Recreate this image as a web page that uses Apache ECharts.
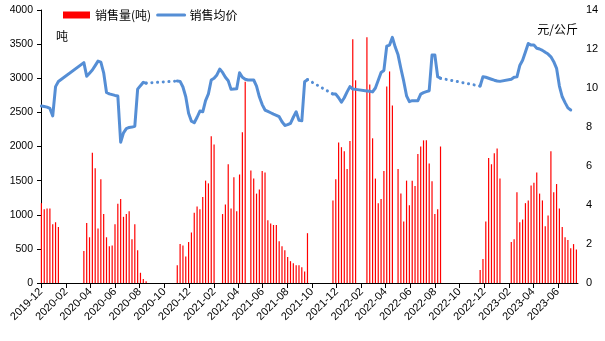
<!DOCTYPE html>
<html>
<head>
<meta charset="utf-8">
<script src="https://cdn.jsdelivr.net/npm/echarts@6/dist/echarts.min.js"></script>
<style>
  html, body { margin: 0; padding: 0; background: #fff; }
  #chart { width: 605px; height: 341px; }
</style>
</head>
<body>
<div id="chart"></div>
<script>
// Weekly series, one entry per week starting Monday 2019-12-02 (null = no record that week)
const weekStart = [2019, 12, 2];

// 销售量 (吨)
const salesVolume = [
  1170, 1080, 1090, 1090, 860, 890, 820, null, null, null,
  null, null, null, null, null, 470, 880, 670, 1910, 1680,
  800, 1520, 1010, 670, 540, 550, 860, 1160, 1230, 970,
  1010, 1050, 640, 860, 480, 150, 60, 25, null, null,
  null, null, null, null, null, null, null, null, 260, 570,
  550, 390, 600, 740, 1030, 1120, 1080, 1260, 1500, 1460,
  2150, 2030, null, null, 1010, 1150, 1740, 1090, 1550, 1050,
  1590, 2210, 2950, null, 1650, 1530, 1310, 1370, 1640, 1620,
  920, 870, 850, 850, 610, 540, 480, 380, 320, 290,
  260, 260, 230, 170, 730, null, null, null, null, null,
  null, null, null, 1210, 1520, 2060, 1990, 1930, 1670, 2080,
  3570, 2970, null, null, null, 3600, 2910, 2120, 1530, 1170,
  1230, 1640, 2880, 3100, 2600, null, 1670, 1310, 900, 1500,
  1140, 1500, 1420, 1890, 2000, 2090, 2090, 1750, 1490, 1010,
  1080, 2000, null, null, null, null, null, null, null, null,
  null, null, null, null, null, 190, 350, 900, 1830, 1740,
  1900, 1970, 1530, null, null, null, 600, 640, 1330, 890,
  930, 1170, 1210, 1430, 1470, 1620, 1310, 1210, 830, 990,
  1930, 1330, 1450, 1090, 820, 670, 630, 510, 570, 490
];

// 销售均价 (元/公斤)
const avgPrice = [
  9.08, 9.05, 9.02, 8.95, 8.57, 10.07, 10.33, null, null, null,
  null, null, null, null, null, 11.3, 10.6, 10.76, 10.92, 11.15,
  11.38, 11.33, 10.78, 9.77, 9.7, 9.66, 9.62, 9.59, 7.22, 7.7,
  7.92, 7.98, 8.0, 8.04, 9.94, 10.12, 10.29, 10.25, null, null,
  null, null, null, null, null, null, null, null, 10.36, 10.34,
  10.05, 9.55, 8.7, 8.3, 8.22, 8.5, 8.82, 8.78, 9.35, 9.7,
  10.41, 10.5, 10.67, 10.97, 10.8, 10.55, 10.37, 9.93, 9.95, 9.96,
  10.78, 10.55, 10.45, 10.41, 10.41, 10.41, 10.1, 9.55, 9.15, 8.87,
  8.8, 8.73, 8.66, 8.6, 8.53, 8.27, 8.08, 8.12, 8.19, 8.5,
  8.78, 8.34, 8.32, 10.32, 10.43, null, null, null, null, null,
  null, null, null, 9.69, 9.69, 9.5, 9.27, 9.5, 9.8, 10.07,
  9.95, 9.93, null, null, null, 9.85, 9.83, 9.8, 10.0, 10.4,
  10.8, 10.9, 12.15, 12.2, 12.6, 12.1, 11.7, 11.0, 10.35, 9.6,
  9.3, 9.35, 9.35, 9.35, 9.69, 9.76, 9.81, 9.86, 11.69, 11.69,
  10.58, 10.5, null, null, null, null, null, null, null, null,
  null, null, null, null, null, 10.1, 10.58, 10.55, 10.5, 10.45,
  10.4, 10.36, 10.34, null, null, null, 10.45, 10.55, 10.57, 11.15,
  11.42, 11.85, 12.28, 12.2, 12.2, 12.04, 12.0, 11.93, 11.83, 11.74,
  11.6, 11.35, 11.01, 10.1, 9.55, 9.25, 8.98, 8.87, null, null
];

// Price gaps bridged with a dotted line: [last week before, first week after]
const dottedBridges = [[37, 48], [94, 103], [141, 155]];

// Tick labels on the date axis
const tickMonths = [
  '2019-12', '2020-02', '2020-04', '2020-06', '2020-08', '2020-10',
  '2020-12', '2021-02', '2021-04', '2021-06', '2021-08', '2021-10',
  '2021-12', '2022-02', '2022-04', '2022-06', '2022-08', '2022-10',
  '2022-12', '2023-02', '2023-04', '2023-06'
];
const axisStart = '2019-12-01';
const axisEnd = '2023-07-21';

const DAY = 86400000;
function parseDay(s) {
  const p = s.split('-').map(Number);
  return Date.UTC(p[0], p[1] - 1, p[2] || 1);
}
const t0 = Date.UTC(weekStart[0], weekStart[1] - 1, weekStart[2]);
const weekTime = k => t0 + k * 7 * DAY;

const barData = [];
salesVolume.forEach((v, k) => { if (v != null) barData.push([weekTime(k), v]); });

const bridgeStarts = new Set(dottedBridges.map(b => b[0]));
const solidData = [];
avgPrice.forEach((v, k) => {
  if (v == null) return;
  solidData.push([weekTime(k), v]);
  if (bridgeStarts.has(k)) solidData.push([weekTime(k) + DAY, '-']);
});
const dottedData = [];
dottedBridges.forEach(([a, b]) => {
  dottedData.push([weekTime(a), avgPrice[a]]);
  dottedData.push([weekTime(b), avgPrice[b]]);
  dottedData.push([weekTime(b) + DAY, '-']);
});

const tickValues = tickMonths.map(parseDay);
const FONT = "'Liberation Sans', 'Noto Sans CJK SC', sans-serif";
const CJK = "'Noto Sans CJK SC', 'Liberation Sans', sans-serif";
const LINE_COLOR = '#558ED5';

function monthLabel(v) {
  const d = new Date(v);
  const m = d.getUTCMonth() + 1;
  return d.getUTCFullYear() + '-' + (m < 10 ? '0' + m : m);
}

const chart = echarts.init(document.getElementById('chart'), null, { renderer: 'canvas' });
chart.setOption({
  animation: false,
  backgroundColor: '#ffffff',
  textStyle: { fontFamily: FONT },
  grid: { left: 41, right: 27, top: 10, bottom: 58, containLabel: false },
  legend: {
    left: 63, top: 9, padding: 0, itemGap: 5,
    itemWidth: 27, itemHeight: 7,
    textStyle: { fontSize: 12, color: '#000', fontFamily: CJK },
    data: [
      { name: '销售量(吨)', icon: 'rect' },
      { name: '销售均价', itemStyle: { opacity: 0 }, lineStyle: { width: 3, color: LINE_COLOR } }
    ]
  },
  xAxis: {
    type: 'value',
    min: parseDay(axisStart),
    max: parseDay(axisEnd),
    axisLine: { lineStyle: { color: '#000', width: 1 } },
    axisTick: { show: true, length: 5, lineStyle: { color: '#000' }, customValues: tickValues },
    splitLine: { show: false },
    axisLabel: {
      customValues: tickValues,
      rotate: 45,
      margin: 7,
      fontSize: 11,
      color: '#000',
      fontFamily: FONT,
      formatter: monthLabel
    }
  },
  yAxis: [
    {
      type: 'value', min: 0, max: 4000, interval: 500,
      axisLine: { show: true, lineStyle: { color: '#000', width: 1 } },
      axisTick: { show: true, length: 4, lineStyle: { color: '#000' } },
      splitLine: { show: false },
      axisLabel: { fontSize: 10.5, color: '#000', margin: 8, fontFamily: FONT, formatter: v => String(v) }
    },
    {
      type: 'value', min: 0, max: 14, interval: 2, position: 'right',
      axisLine: { show: false },
      axisTick: { show: false },
      splitLine: { show: false },
      axisLabel: { fontSize: 11, color: '#000', margin: 8, fontFamily: FONT, formatter: v => String(v) }
    }
  ],
  graphic: [
    { type: 'text', left: 56, top: 30, style: { text: '吨', font: "12px " + CJK, fill: '#000' } },
    { type: 'text', right: 27, top: 23, style: { text: '元/公斤', font: "12px " + CJK, fill: '#000' } }
  ],
  series: [
    {
      name: '销售量(吨)', type: 'bar', yAxisIndex: 0,
      data: barData, barWidth: 1.2,
      itemStyle: { color: '#FF0000' }
    },
    {
      name: '销售均价', type: 'line', yAxisIndex: 1,
      data: solidData, symbol: 'none', showSymbol: false, connectNulls: false,
      lineStyle: { color: LINE_COLOR, width: 3, join: 'round', cap: 'round' },
      itemStyle: { color: LINE_COLOR },
      z: 3
    },
    {
      name: '均价连接', type: 'line', yAxisIndex: 1,
      data: dottedData, symbol: 'none', showSymbol: false, connectNulls: false,
      lineStyle: { color: LINE_COLOR, width: 3, type: [0.1, 5.6], cap: 'round' },
      itemStyle: { color: LINE_COLOR },
      z: 3
    }
  ]
});
</script>
</body>
</html>
